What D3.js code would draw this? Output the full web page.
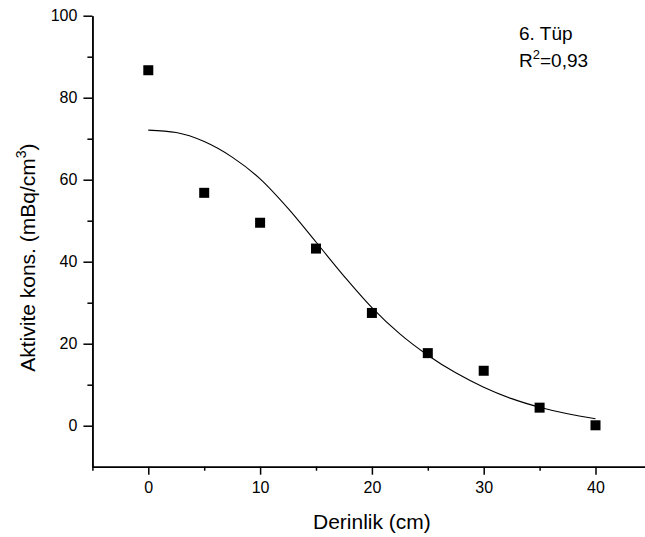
<!DOCTYPE html>
<html>
<head>
<meta charset="utf-8">
<script src="https://cdn.jsdelivr.net/npm/d3@7"></script>
<style>
  html, body { margin: 0; padding: 0; background: #fff; }
  svg { display: block; font-family: Arial, "Liberation Sans", sans-serif; }
</style>
</head>
<body>
<svg id="chart" width="645" height="537"></svg>
<script>
// Measured activity concentration by depth
const depth = [0, 5, 10, 15, 20, 25, 30, 35, 40];
const activity = [86.7, 56.8, 49.5, 43.2, 27.5, 17.7, 13.4, 4.4, 0.1];

// Fitted curve, sampled along depth
const fitDepth = [0, 2.5, 5, 7.5, 10, 12.5, 15, 17.5, 20, 22.5, 25, 27.5, 30, 32.5, 35, 37.5, 40];
const fitActivity = [72.1, 71.5, 69.3, 65.5, 60.2, 53.0, 44.8, 36.5, 28.8, 22.4, 17.2, 12.9, 9.4, 6.6, 4.5, 2.9, 1.7];

// Tick values
const xMajor = [0, 10, 20, 30, 40];
const xMinor = [-5, 5, 15, 25, 35, 45];
const yMajor = [0, 20, 40, 60, 80, 100];
const yMinor = [10, 30, 50, 70, 90];

const svg = d3.select("#chart");

const x = d3.scaleLinear().domain([-5, 45]).range([92.4, 651.4]);
const y = d3.scaleLinear().domain([-10, 100]).range([466.7, 15.7]);

const axisColor = "#000";

// X axis: major ticks with labels, minor ticks without
const gx = svg.append("g").attr("transform", `translate(0,${y(-10)})`);
gx.call(d3.axisBottom(x).tickValues(xMajor).tickSize(8).tickSizeOuter(0).tickPadding(7).tickFormat(d3.format("d")));
gx.append("g").call(d3.axisBottom(x).tickValues(xMinor).tickSize(4).tickSizeOuter(0).tickFormat(""));

// Y axis
const gy = svg.append("g").attr("transform", `translate(${x(-5)},0)`);
gy.call(d3.axisLeft(y).tickValues(yMajor).tickSize(9).tickSizeOuter(0).tickPadding(6).tickFormat(d3.format("d")));
gy.append("g").call(d3.axisLeft(y).tickValues(yMinor).tickSize(5).tickSizeOuter(0).tickFormat(""));

svg.selectAll(".domain").attr("stroke", axisColor).attr("stroke-width", 1.5);
svg.selectAll(".tick line").attr("stroke", axisColor).attr("stroke-width", 1.5);
svg.selectAll(".tick text").attr("font-size", 16).attr("fill", "#000")
  .attr("font-family", "Arial, 'Liberation Sans', sans-serif");

// Axis titles
svg.append("text")
  .attr("x", x(20)).attr("y", 529)
  .attr("text-anchor", "middle")
  .attr("font-size", 21)
  .text("Derinlik (cm)");

const yTitle = svg.append("text")
  .attr("transform", `translate(35,${y(41)}) rotate(-90)`)
  .attr("text-anchor", "middle")
  .attr("font-size", 21);
yTitle.append("tspan").text("Aktivite kons. (mBq/cm");
yTitle.append("tspan").attr("font-size", 14).attr("dy", -9).text("3");
yTitle.append("tspan").attr("dy", 9).text(")");

// Fitted curve
const line = d3.line()
  .x((d, i) => x(fitDepth[i]))
  .y(d => y(d))
  .curve(d3.curveMonotoneX);
svg.append("path")
  .datum(fitActivity)
  .attr("d", line)
  .attr("fill", "none")
  .attr("stroke", "#000")
  .attr("stroke-width", 1.1);

// Data points
const sq = 10;
svg.selectAll("rect.pt")
  .data(depth)
  .join("rect")
  .attr("class", "pt")
  .attr("x", d => x(d) - sq / 2)
  .attr("y", (d, i) => y(activity[i]) - sq / 2)
  .attr("width", sq)
  .attr("height", sq)
  .attr("fill", "#000");

// Annotation
const note = svg.append("g").attr("font-size", 19);
note.append("text").attr("x", 519).attr("y", 40).text("6. Tüp");
const r2 = note.append("text").attr("x", 519).attr("y", 67);
r2.append("tspan").text("R");
r2.append("tspan").attr("font-size", 13).attr("dy", -8).text("2");
r2.append("tspan").attr("dy", 8).text("=0,93");
</script>
</body>
</html>
